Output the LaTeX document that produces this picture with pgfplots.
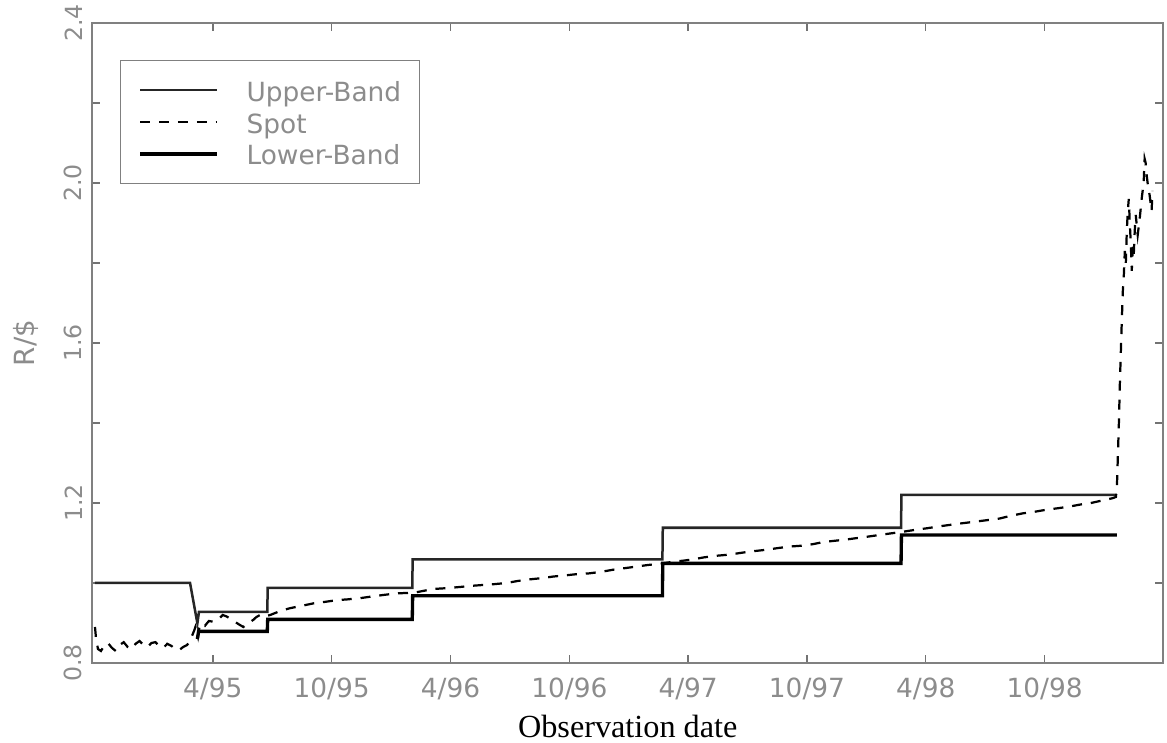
\documentclass[border=0pt]{standalone}
\usepackage{fontspec}
\setmainfont{DejaVu Sans}
\newfontfamily\timesfont{Liberation Serif}
\usepackage{pgfplots}
\pgfplotsset{compat=1.18}
\definecolor{txtgray}{gray}{0.55}
\begin{document}
\begin{tikzpicture}
\useasboundingbox (0,0) rectangle (420pt,267.05pt);
\begin{axis}[
 at={(33.12pt,28.44pt)}, anchor=south west,
 scale only axis, width=385.6pt, height=230.4pt,
 xmin=8.9, xmax=63, ymin=0.8, ymax=2.4,
 xtick={15,21,27,33,39,45,51,57},
 xticklabels={4/95,10/95,4/96,10/96,4/97,10/97,4/98,10/98},
 ytick={0.8,1.2,1.6,2.0,2.4},
 yticklabels={0.8,1.2,1.6,2.0,2.4},
 minor ytick={1.0,1.4,1.8,2.2},
 tick align=inside, major tick length=3pt, minor tick length=3pt,
 tick style={black!55, line width=0.5pt},
 axis line style={black!50, line width=0.7pt},
 /pgf/number format/assume math mode=true,
 ticklabel style={font=\fontsize{9.5}{11}\selectfont, text=txtgray},
 yticklabel style={rotate=90, anchor=south, font=\fontsize{8.5}{10}\selectfont},
 xticklabel style={yshift=-2pt},
 xlabel={Observation date},
 xlabel style={font=\timesfont\fontsize{11.6}{13}\selectfont, at={(axis description cs:0.5,0)}, anchor=center, yshift=-22.8pt},
 ylabel={R/\$},
 ylabel style={font=\fontsize{10}{12}\selectfont, text=txtgray, at={([xshift=-23.6pt]axis description cs:0,0.5)}, anchor=center},
 legend style={at={(axis description cs:0.026,0.942)}, anchor=north west, draw=black!50, line width=0.4pt, fill=white,
   inner xsep=6.5pt, inner ysep=5.6pt, row sep=1.5pt, column sep=10pt,
   font=\fontsize{9.5}{11}\selectfont, text=txtgray,
   nodes={inner sep=0pt, text height=9pt, text depth=1pt}},
 legend cell align=left,
 legend image code/.code={\draw[#1] (0pt,0pt) -- (27.7pt,0pt);},
]
\addplot[black!85, line width=0.9pt, solid] coordinates {
 (9.05,1.0) (13.85,1.0) (14.22,0.899) (14.3,0.928) (17.75,0.928) (17.77,0.988)
 (25.07,0.988) (25.09,1.059) (37.7,1.059) (37.72,1.138) (49.75,1.138) (49.77,1.22) (60.65,1.22)
};
\addlegendentry{Upper-Band}
\addplot[black, line width=0.8pt, dash pattern=on 3.6pt off 3.2pt] coordinates {
 (9.05,0.89) (9.1,0.862) (9.2,0.835) (9.35,0.83) (9.5,0.842) (9.7,0.85) (9.9,0.838)
 (10.1,0.83) (10.3,0.845) (10.5,0.852) (10.7,0.84) (10.9,0.835) (11.1,0.848) (11.3,0.855)
 (11.5,0.845) (11.7,0.84) (11.9,0.85) (12.1,0.852) (12.3,0.842) (12.5,0.838) (12.7,0.848)
 (12.9,0.843) (13.1,0.835) (13.3,0.832) (13.5,0.84) (13.7,0.845) (13.85,0.855) (13.95,0.868)
 (14.05,0.88) (14.12,0.89) (14.18,0.878) (14.25,0.865) (14.32,0.888) (14.45,0.899) (14.6,0.893)
 (14.8,0.905) (15.03,0.903) (15.3,0.91) (15.5,0.92) (15.71,0.916) (15.9,0.91) (16.12,0.903)
 (16.3,0.897) (16.54,0.89) (16.8,0.9) (17.05,0.908) (17.2,0.915) (17.39,0.92) (17.6,0.916)
 (17.9,0.92) (18.4,0.93) (18.9,0.937) (19.5,0.943) (20.08,0.949) (20.7,0.953) (21.26,0.957)
 (21.8,0.959) (22.43,0.962) (23.0,0.966) (23.61,0.97) (24.28,0.974) (24.8,0.975) (25.3,0.977)
 (26.13,0.985) (26.8,0.987) (27.48,0.99) (28.1,0.993) (28.65,0.995) (29.2,0.997) (29.83,1.0)
 (30.4,1.005) (31.0,1.009) (31.6,1.012) (32.18,1.016) (32.8,1.019) (33.37,1.022) (34.0,1.024)
 (34.63,1.028) (35.2,1.033) (35.8,1.037) (36.4,1.041) (36.98,1.045) (37.6,1.048) (38.24,1.053)
 (38.8,1.056) (39.25,1.059) (39.8,1.064) (40.43,1.068) (41.1,1.071) (41.77,1.076) (42.4,1.08)
 (42.95,1.083) (43.5,1.087) (44.13,1.091) (44.7,1.093) (45.3,1.097) (45.8,1.102) (46.31,1.105)
 (46.9,1.108) (47.49,1.112) (48.1,1.116) (48.67,1.12) (49.25,1.124) (49.84,1.128) (50.5,1.133)
 (51.1,1.137) (51.6,1.141) (52.2,1.145) (52.8,1.149) (53.46,1.153) (54.1,1.157) (54.72,1.161)
 (55.3,1.168) (55.9,1.174) (56.5,1.178) (57.08,1.183) (57.7,1.187) (58.26,1.191) (58.8,1.196)
 (59.35,1.2) (59.9,1.206) (60.44,1.212) (60.6,1.215)
 (60.65,1.24) (60.7,1.32) (60.75,1.40) (60.8,1.50) (60.85,1.58) (60.9,1.66) (60.95,1.73)
 (61.0,1.77) (61.05,1.83) (61.1,1.80) (61.15,1.88) (61.2,1.93) (61.25,1.96) (61.3,1.90)
 (61.35,1.85) (61.4,1.78) (61.45,1.84) (61.5,1.82) (61.55,1.88) (61.6,1.92) (61.7,1.87)
 (61.8,1.91) (61.9,1.96) (62.0,2.0) (62.05,2.06) (62.1,2.05) (62.15,2.02) (62.2,2.0)
 (62.3,1.97) (62.4,1.93) (62.45,1.98)
};
\addlegendentry{Spot}
\addplot[black, line width=1.2pt, solid] coordinates {
 (14.22,0.86) (14.28,0.879) (17.75,0.879) (17.77,0.909) (25.07,0.909) (25.09,0.968)
 (37.7,0.968) (37.72,1.049) (49.75,1.049) (49.77,1.12) (60.65,1.12)
};
\addlegendentry{Lower-Band}
\end{axis}
\end{tikzpicture}
\end{document}
